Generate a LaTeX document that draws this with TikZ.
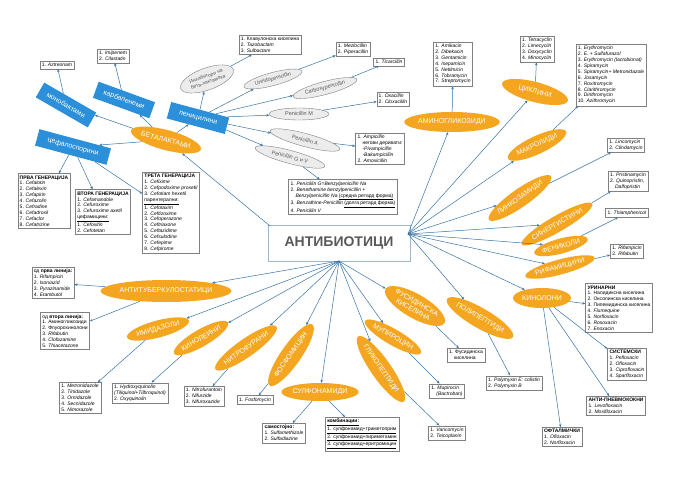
\documentclass[tikz,border=0pt]{standalone}
\usepackage{fontspec}
\setmainfont{Liberation Sans}
\usetikzlibrary{shapes.geometric,arrows.meta}
\definecolor{OvalClr}{rgb}{0.96,0.65,0.13}
\definecolor{BlueClr}{rgb}{0.17,0.56,0.85}
\definecolor{LineClr}{rgb}{0.22,0.45,0.65}
\tikzset{
  oval/.style={ellipse,fill=OvalClr,text=white,inner sep=0pt,font=\fontsize{7}{8}\selectfont},
  blue/.style={rectangle,fill=BlueClr,text=white,inner sep=2pt,minimum height=17,font=\fontsize{7}{8}\selectfont},
  gray/.style={ellipse,draw=gray,fill=gray!15,text=gray!70!black,inner sep=0pt,font=\fontsize{5.5}{6}\selectfont},
  box/.style={rectangle,draw=gray,fill=white,align=left,inner sep=2pt,font=\fontsize{5}{5.9}\selectfont},
  arr/.style={draw=LineClr,line width=0.5pt,-{Stealth[length=3pt,width=2.5pt]}}
}
\begin{document}
\begin{tikzpicture}[x=1pt,y=-1pt]
\useasboundingbox[fill=white] (0,0) rectangle (680,481);

% centre
\node[draw=LineClr!50,minimum width=142,minimum height=36,text=gray!70!black,font=\fontsize{14}{15}\selectfont\bfseries\rmfamily] (ab) at (339,243) {АНТИБИОТИЦИ};
\coordinate (abl) at (270,226);
\coordinate (abr) at (408,234);
\coordinate (abs) at (339,261);

% beta-lactams
\node[oval,rotate=-15,minimum width=72,minimum height=20] (bl) at (166,140) {БЕТАЛАКТАМИ};
\node[blue,rotate=-30,minimum width=60] (mono) at (66,105) {монобактами};
\node[blue,rotate=-20,minimum width=60] (karb) at (124,100) {карбапенеми};
\node[blue,rotate=-15,minimum width=60] (pen) at (198,118) {пеницилини};
\node[blue,rotate=-15,minimum width=74] (cef) at (73,147) {цефалоспорини};
\node[box] (azt) at (57,65) {1. \textit{Aztreonam}};
\node[box] (imi) at (113,56) {1. \textit{Imipenem}\\2. \textit{Cilastatin}};
\node[gray,rotate=20,minimum width=56,minimum height=22,align=center,font=\fontsize{5}{6}\selectfont] (inh) at (207,79) {Инхибитори на\\бета-лактамаза};
\node[gray,rotate=15,minimum width=60,minimum height=13] (ure) at (273,79) {Ureidopenicillin};
\node[gray,rotate=15,minimum width=66,minimum height=13] (car) at (325,88) {Carboxypenicillin};
\node[gray,minimum width=60,minimum height=12] (pm) at (299,114) {Penicillin M};
\node[gray,rotate=-15,minimum width=72,minimum height=13] (pa) at (305,140) {Penicillin A};
\node[gray,rotate=-15,minimum width=72,minimum height=13] (pg) at (290,157) {Penicillin G и V};
\node[box] (klav) at (270,45) {1. Клавулонска киселина\\2. \textit{Tazobactam}\\3. \textit{Sulbactam}};
\node[box] (mez) at (353,49) {1. \textit{Mezlocillin}\\2. \textit{Piperacillin}};
\node[box] (tic) at (389,62) {1. \textit{Ticarcillin}};
\node[box] (oxa) at (393,99) {1. \textit{Oxacillin}\\2. \textit{Cloxacillin}};
\node[box] (amp) at (380,149) {1. \textit{Ampicillin}\\\quad негови деривати:\\\quad \textit{-Pivampicillin}\\\quad \textit{-Bakampicillin}\\2. \textit{Amoxicillin}};
\node[box] (pgb) at (343,197) {1. \textit{Penicillin G=Benzylpenicillin Na}\\2. \textit{Benethamine benzylpenicillin +}\\\quad\textit{Benzylpenicillin Na} \underline{(средна ретард форма)}\\3. \textit{Benzathine-Penicillin} \underline{(долга ретард форма)}\\4. \textit{Penicillin V}};
\node[box] (c1) at (44,201) {\textbf{ПРВА ГЕНЕРАЦИЈА}\\1. \textit{Cefalotin}\\2. \textit{Cefalexin}\\3. \textit{Cefapirin}\\4. \textit{Cefazolin}\\5. \textit{Cefradine}\\6. \textit{Cefadroxil}\\7. \textit{Cefaclor}\\8. \textit{Cefatrizine}};
\node[box] (c2) at (103,212) {\textbf{ВТОРА ГЕНЕРАЦИЈА}\\1. \textit{Cefamandole}\\2. \textit{Cefuroxime}\\3. \textit{Cefuroxime axetil}\\\underline{цефамицини:}\\1. \textit{Cefoxitin}\\2. \textit{Cefotetan}};
\node[box] (c3) at (171,213) {\textbf{ТРЕТА ГЕНЕРАЦИЈА}\\1. \textit{Cefixime}\\2. \textit{Cefpodoxime proxetil}\\3. \textit{Cefotiam hexetil}\\\underline{парентерални:}\\1. \textit{Cefotaxim}\\2. \textit{Ceftizoxime}\\3. \textit{Cefoperazone}\\4. \textit{Ceftriaxone}\\5. \textit{Ceftazidime}\\6. \textit{Cefsulodine}\\7. \textit{Cefepime}\\8. \textit{Cefpirome}};

% right side
\node[oval,minimum width=76,minimum height=20] (amg) at (452,122) {АМИНОГЛИКОЗИДИ};
\node[oval,rotate=-15,minimum width=68,minimum height=20] (cik) at (535,92) {ЦИКЛИНИ};
\node[oval,rotate=25,minimum width=64,minimum height=18] (mak) at (537,145) {МАКРОЛИДИ};
\node[oval,rotate=35,minimum width=72,minimum height=18] (lin) at (520,198) {ЛИНКОЗАМИДИ};
\node[oval,rotate=30,minimum width=68,minimum height=16] (sin) at (557,224) {СИНЕРГИСТИНИ};
\node[oval,rotate=15,minimum width=52,minimum height=15] (fen) at (561,246) {ФЕНИКОЛИ};
\node[oval,rotate=15,minimum width=60,minimum height=15] (rif) at (560,267) {РИФАМИЦИНИ};
\node[oval,minimum width=58,minimum height=20] (kin) at (542,298) {КИНОЛОНИ};
\node[oval,rotate=-30,minimum width=64,minimum height=20] (pol) at (480,318) {ПОЛИПЕПТИДИ};
\node[box] (amgb) at (453,64) {1. \textit{Amikacin}\\2. \textit{Dibekacin}\\3. \textit{Gentamicin}\\4. \textit{Isepamicin}\\5. \textit{Netilmicin}\\6. \textit{Tobramycin}\\7. \textit{Streptomycin}};
\node[box] (cikb) at (537,49) {1. \textit{Tetracyclin}\\2. \textit{Limecyclin}\\3. \textit{Doxycyclin}\\4. \textit{Minocyclin}};
\node[box] (makb) at (611,75) {1. \textit{Erythromycin}\\2. \textit{E. + Sulfafurazol}\\3. \textit{Erythromycin (lactobionat)}\\4. \textit{Spiramycin}\\5. \textit{Spiramycin+ Metronidazole}\\6. \textit{Josamycin}\\7. \textit{Roxitromycin}\\8. \textit{Clarithromycin}\\9. \textit{Dirithromycin}\\10. \textit{Azithromycin}};
\node[box] (linb) at (626,145) {1. \textit{Lincomycin}\\2. \textit{Clindamycin}};
\node[box] (sinb) at (628,181) {1. \textit{Pristinamycin}\\2. \textit{Quinopristin,}\\\quad\textit{Dalfopristin}};
\node[box] (fenb) at (627,213) {1. \textit{Thiamphenicol}};
\node[box] (rifb) at (627,251) {1. \textit{Rifampicin}\\2. \textit{Rifabutin}};
\node[box] (urb) at (619,308) {\textbf{УРИНАРНИ}\\1. Налидиксна киселина\\2. Оксолинска киселина\\3. Пипемидинска киселина\\4. \textit{Flumequine}\\5. \textit{Norfloxacin}\\6. \textit{Rosoxacin}\\7. \textit{Enoxacin}};
\node[box] (sisb) at (627,364) {\textbf{СИСТЕМСКИ}\\1. \textit{Pefloxacin}\\2. \textit{Ofloxacin}\\3. \textit{Ciprofloxacin}\\4. \textit{Sparfloxacin}};
\node[box] (pnb) at (616,406) {\textbf{АНТИ-ПНЕВМОКОКНИ}\\1. \textit{Levofloxacin}\\2. \textit{Moxifloxacin}};
\node[box] (ofb) at (562,437) {\textbf{ОФТАЛМИЧКИ}\\1. \textit{Ofloxacin}\\2. \textit{Norfloxacin}};
\node[box] (polb) at (514,383) {1. \textit{Polymyxin E: colistin}\\2. \textit{Polymyxin B}};

% bottom
\node[oval,rotate=-30,minimum width=68,minimum height=24,align=center] (fus) at (415,306) {ФУСИДИНСКА\\КИСЕЛИНА};
\node[oval,rotate=-30,minimum width=56,minimum height=16] (mup) at (393,337) {МУПИРОЦИН};
\node[oval,rotate=-55,minimum width=72,minimum height=20] (gli) at (381,369) {ГЛИКОПЕПТИДИ};
\node[oval,minimum width=66,minimum height=18] (sul) at (320,392) {СУЛФОНАМИДИ};
\node[oval,rotate=55,minimum width=66,minimum height=20] (fos) at (291,355) {ФОСФОМИЦИН};
\node[oval,rotate=35,minimum width=66,minimum height=18] (nit) at (246,348) {НИТРОФУРАНИ};
\node[oval,rotate=30,minimum width=62,minimum height=17] (kil) at (201,338) {КИНОЛЕИНИ};
\node[oval,rotate=15,minimum width=64,minimum height=17] (imd) at (158,329) {ИМИДАЗОЛИ};
\node[oval,minimum width=108,minimum height=22] (atb) at (166,291) {АНТИТУБЕРКУЛОСТАТИЦИ};
\node[box] (fusb) at (466,355) {1. Фусидинска\\\quad киселина};
\node[box] (mupb) at (447,391) {1. \textit{Mupirocin}\\\quad\textit{(Bactroban)}};
\node[box] (glib) at (447,433) {1. \textit{Vancomycin}\\2. \textit{Teicoplanin}};
\node[box] (samb) at (284,433) {\textbf{самостојно:}\\1. \textit{Sulfamethizole}\\2. \textit{Sulfadiazine}};
\node[box] (komb) at (362,434) {\textbf{\underline{комбинации:}}\\\underline{1. сулфонамид+триметоприм}\\\underline{2. сулфонамид+пириметамин}\\\underline{3. сулфонамид+еритромицин}};
\node[box] (fosb) at (255,400) {1. \textit{Fosfomycin}};
\node[box] (nitb) at (204,396) {1. \textit{Nitrofurantoin}\\2. \textit{Nifurzide}\\3. \textit{Nifuroxazide}};
\node[box] (kilb) at (140,393) {1. \textit{Hydroxyquinolin}\\\textit{(Tiliquinol+Tilbroquinol)}\\2. \textit{Oxyquinolin}};
\node[box] (imdb) at (80,398) {1. \textit{Metronidazole}\\2. \textit{Tinidazole}\\3. \textit{Ornidazole}\\4. \textit{Secnidazole}\\5. \textit{Nimorazole}};
\node[box] (tb1) at (53,283) {од \textbf{прва линија:}\\1. \textit{Rifampicin}\\2. \textit{Isoniazid}\\3. \textit{Pyrazinamide}\\4. \textit{Etambutol}};
\node[box] (tb2) at (65,331) {од \textbf{втора линија:}\\1. Аминогликозиди\\2. Флуорохинолони\\3. \textit{Rifabutin}\\4. \textit{Clofazamine}\\5. \textit{Thiacetazone}};

% connectors
\draw[arr] (abl) -- (bl);
\foreach \t in {mono,karb,pen,cef} \draw[arr] (bl) -- (\t);
\draw[arr] (mono) -- (azt);
\draw[arr] (karb) -- (imi);
\foreach \t in {inh,ure,car,pm,pa,pg} \draw[arr] (pen) -- (\t);
\draw[arr] (inh) -- (klav);
\draw[arr] (ure) -- (mez);
\draw[arr] (car) -- (tic);
\draw[arr] (pm) -- (oxa);
\draw[arr] (pa) -- (amp);
\draw[arr] (pg) -- (pgb);
\foreach \t in {c1,c2,c3} \draw[arr] (cef) -- (\t);
\foreach \t in {amg,cik,mak,lin,sin,fen,rif,kin,pol} \draw[arr] (abr) -- (\t);
\draw[arr] (amg) -- (amgb);
\draw[arr] (cik) -- (cikb);
\draw[arr] (mak) -- (makb);
\draw[arr] (lin) -- (linb);
\draw[arr] (sin) -- (sinb);
\draw[arr] (fen) -- (fenb);
\draw[arr] (rif) -- (rifb);
\foreach \t in {urb,sisb,pnb,ofb} \draw[arr] (kin) -- (\t);
\draw[arr] (pol) -- (polb);
\foreach \t in {atb,imd,kil,nit,fos,sul,gli,mup,fus} \draw[arr] (abs) -- (\t);
\draw[arr] (fus) -- (fusb);
\draw[arr] (mup) -- (mupb);
\draw[arr] (gli) -- (glib);
\draw[arr] (sul) -- (samb);
\draw[arr] (sul) -- (komb);
\draw[arr] (fos) -- (fosb);
\draw[arr] (nit) -- (nitb);
\draw[arr] (kil) -- (kilb);
\draw[arr] (imd) -- (imdb);
\draw[arr] (atb) -- (tb1);
\draw[arr] (atb) -- (tb2);
\end{tikzpicture}
\end{document}
